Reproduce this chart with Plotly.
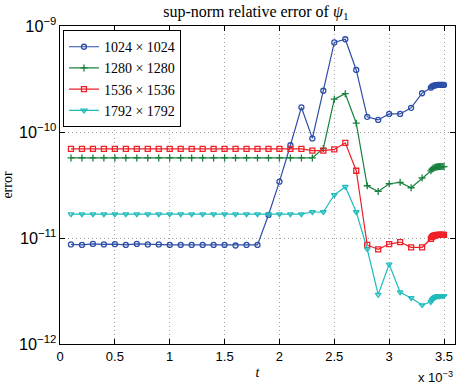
import plotly.graph_objects as go

# time in units of 1e-3
t_main = [0.1, 0.2, 0.3, 0.4, 0.5, 0.6, 0.7, 0.8, 0.9, 1.0, 1.1, 1.2, 1.3, 1.4, 1.5, 1.6, 1.7, 1.8,
          1.9, 2.0, 2.1, 2.2, 2.3, 2.4, 2.5, 2.6, 2.7, 2.8, 2.9, 3.0, 3.1, 3.2, 3.3]
t_tail = [3.38, 3.39, 3.40, 3.41, 3.42, 3.43, 3.44, 3.45, 3.46, 3.47, 3.48, 3.49, 3.50]

err_1024 = [8.7e-12, 8.6e-12, 8.8e-12, 8.7e-12, 8.75e-12, 8.6e-12, 8.8e-12, 8.7e-12, 8.7e-12,
            8.6e-12, 8.6e-12, 8.6e-12, 8.6e-12, 8.6e-12, 8.6e-12, 8.5e-12, 8.6e-12, 8.6e-12,
            1.65e-11, 3.4e-11, 7.5e-11, 1.71e-10, 8.7e-11, 2.45e-10, 7.0e-10, 7.5e-10, 3.85e-10,
            1.39e-10, 1.30e-10, 1.48e-10, 1.48e-10, 1.69e-10, 2.32e-10]
err_1024_tail = [2.62e-10, 2.68e-10, 2.72e-10, 2.74e-10, 2.76e-10, 2.77e-10, 2.78e-10,
                 2.78e-10, 2.78e-10, 2.78e-10, 2.78e-10, 2.78e-10, 2.78e-10]

err_1280 = [5.69e-11] * 22 + [5.69e-11, 7.0e-11, 2.04e-10, 2.3e-10, 1.21e-10, 3.11e-11, 2.75e-11,
                              3.25e-11, 3.35e-11, 2.98e-11, 3.68e-11]
err_1280_tail = [4.3e-11, 4.45e-11, 4.55e-11, 4.6e-11, 4.65e-11, 4.68e-11, 4.7e-11, 4.71e-11,
                 4.72e-11, 4.72e-11, 4.72e-11, 4.72e-11, 4.72e-11]

err_1536 = [6.92e-11] * 22 + [6.67e-11, 6.67e-11, 6.85e-11, 7.9e-11, 4.31e-11, 8.6e-12, 7.82e-12,
                              8.77e-12, 9.16e-12, 8.17e-12, 8.17e-12]
err_1536_tail = [9.8e-12, 1.02e-11, 1.04e-11, 1.05e-11, 1.06e-11, 1.065e-11, 1.07e-11, 1.07e-11,
                 1.07e-11, 1.07e-11, 1.07e-11, 1.07e-11, 1.07e-11]

err_1792 = [1.68e-11] * 22 + [1.76e-11, 1.76e-11, 2.55e-11, 3.05e-11, 1.76e-11, 7.87e-12, 2.92e-12,
                              5.65e-12, 3.08e-12, 2.72e-12, 2.33e-12]
err_1792_tail = [2.5e-12, 2.6e-12, 2.68e-12, 2.74e-12, 2.78e-12, 2.81e-12, 2.83e-12, 2.84e-12,
                 2.84e-12, 2.85e-12, 2.85e-12, 2.85e-12, 2.85e-12]

x_ticks = [0, 0.5, 1, 1.5, 2, 2.5, 3, 3.5]
x_ticklabels = ["0", "0.5", "1", "1.5", "2", "2.5", "3", "3.5"]

labels = ["1024 × 1024", "1280 × 1280", "1536 × 1536", "1792 × 1792"]
colors = ["rgb(45,78,168)", "rgb(25,128,60)", "rgb(238,32,40)", "rgb(32,188,188)"]
symbols = ["circle-open", "cross-thin-open", "square-open", "triangle-down-open"]
series = [(err_1024, err_1024_tail), (err_1280, err_1280_tail),
          (err_1536, err_1536_tail), (err_1792, err_1792_tail)]

fig = go.Figure()
for lab, col, sym, (main, tail) in zip(labels, colors, symbols, series):
    fig.add_trace(go.Scatter(
        x=t_main + t_tail, y=main + tail, mode="lines+markers", name=lab,
        line=dict(color=col, width=1.2),
        marker=dict(symbol=sym, size=5, color=col, line=dict(color=col, width=1.3)),
    ))

serif = "Liberation Serif, DejaVu Serif, serif"
sans = "Liberation Sans, Arial, sans-serif"
grid = "rgb(160,160,160)"

fig.update_layout(
    width=461, height=388,
    margin=dict(l=56, r=5, t=26, b=44),
    paper_bgcolor="white", plot_bgcolor="white",
    showlegend=True,
    title=dict(text="sup-norm relative error of <i>ψ</i><sub>1</sub>", x=0.555, xanchor="center",
               y=0.985, yanchor="top", font=dict(family=serif, size=16, color="black")),
    legend=dict(x=0.0075, y=0.987, xanchor="left", yanchor="top",
                bgcolor="white", bordercolor="black", borderwidth=1,
                font=dict(family=serif, size=14, color="black"),
                itemwidth=30, tracegroupgap=0),
    xaxis=dict(range=[0, 3.6], tickvals=x_ticks, ticktext=x_ticklabels,
               ticks="inside", ticklen=5, tickcolor="black", mirror="ticks",
               showline=True, linecolor="black", linewidth=1,
               showgrid=True, gridcolor=grid, griddash="1px,3px", gridwidth=1,
               zeroline=False, tickfont=dict(family=sans, size=13, color="black"),
               title=dict(text="<i>t</i>", standoff=4, font=dict(family=serif, size=14, color="black"))),
    yaxis=dict(type="log", range=[-12, -9], dtick=1, exponentformat="power",
               ticks="inside", ticklen=5, tickcolor="black", mirror="ticks",
               showline=True, linecolor="black", linewidth=1,
               showgrid=True, gridcolor=grid, griddash="1px,3px", gridwidth=1,
               tickfont=dict(family=sans, size=13, color="black"),
               title=dict(text="error", standoff=4, font=dict(family=serif, size=14, color="black"))),
)

fig.add_annotation(text="x 10<sup>−3</sup>", xref="paper", yref="paper", x=1.0, y=-0.135,
                   xanchor="right", yanchor="bottom", showarrow=False,
                   font=dict(family=sans, size=13, color="black"))

fig.write_html("out.html")
